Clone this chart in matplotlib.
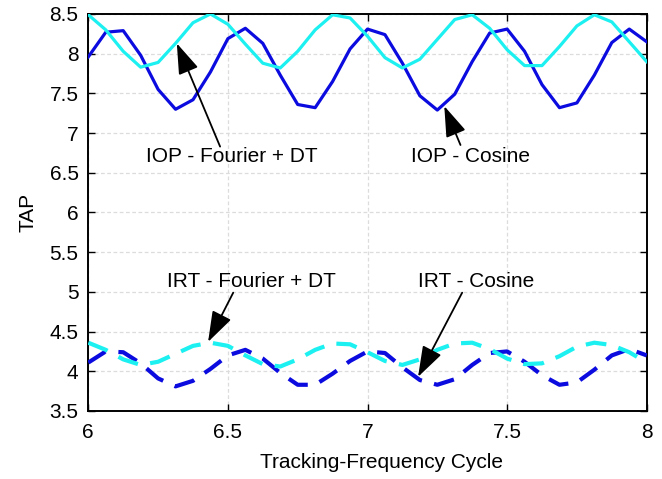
import numpy as np
import matplotlib
matplotlib.use("Agg")
import matplotlib.pyplot as plt

plt.rcParams['font.family'] = ['Liberation Sans', 'DejaVu Sans']

cycle = [6 + k / 16 for k in range(33)]

iop_cosine = [7.96, 8.27, 8.29, 7.98, 7.55, 7.30, 7.42, 7.77, 8.19, 8.32, 8.13,
              7.73, 7.36, 7.32, 7.65, 8.06, 8.31, 8.24, 7.88, 7.47, 7.29, 7.49,
              7.90, 8.26, 8.31, 8.03, 7.61, 7.32, 7.38, 7.73, 8.14, 8.31, 8.15]
iop_fourier = [8.49, 8.30, 8.03, 7.83, 7.89, 8.13, 8.39, 8.50, 8.37, 8.12, 7.88,
               7.82, 8.03, 8.30, 8.49, 8.45, 8.22, 7.95, 7.82, 7.93, 8.18, 8.43,
               8.49, 8.32, 8.05, 7.85, 7.85, 8.09, 8.35, 8.49, 8.40, 8.15, 7.90]
irt_cosine = [4.11, 4.25, 4.24, 4.10, 3.91, 3.81, 3.88, 4.03, 4.20, 4.27, 4.16,
              3.98, 3.83, 3.83, 3.97, 4.13, 4.25, 4.23, 4.05, 3.89, 3.83, 3.90,
              4.08, 4.23, 4.25, 4.12, 3.95, 3.83, 3.86, 4.02, 4.20, 4.28, 4.20]
irt_fourier = [4.36, 4.27, 4.15, 4.08, 4.12, 4.22, 4.32, 4.36, 4.32, 4.20, 4.09,
               4.06, 4.15, 4.27, 4.35, 4.34, 4.24, 4.13, 4.08, 4.15, 4.27, 4.35,
               4.36, 4.28, 4.16, 4.09, 4.10, 4.19, 4.31, 4.36, 4.33, 4.24, 4.11]

x_ticks = [6, 6.5, 7, 7.5, 8]
x_tick_labels = ['6', '6.5', '7', '7.5', '8']
y_ticks = [3.5, 4, 4.5, 5, 5.5, 6, 6.5, 7, 7.5, 8, 8.5]
y_tick_labels = ['3.5', '4', '4.5', '5', '5.5', '6', '6.5', '7', '7.5', '8', '8.5']

labels = ['IOP - Fourier + DT', 'IOP - Cosine', 'IRT - Fourier + DT', 'IRT - Cosine']
label_pos = [(6.515, 6.70), (7.368, 6.70), (6.583, 5.125), (7.389, 5.125)]
arrow_tail = [(6.472, 6.83), (7.333, 6.85), (6.519, 4.99), (7.339, 4.99)]
arrow_tip = [(6.317, 8.13), (7.275, 7.34), (6.429, 4.37), (7.181, 3.93)]

BLUE = '#0B0BE0'
CYAN = '#1CF0F0'
FS = 15

fig = plt.figure(figsize=(6.62, 4.79), dpi=100)
ax = fig.add_axes([0.1334, 0.142, 0.8435, 0.8288])

ax.plot(cycle, iop_cosine, color=BLUE, lw=2.3, zorder=3)
ax.plot(cycle, iop_fourier, color=CYAN, lw=2.3, zorder=3)
ax.plot(cycle, irt_cosine, color=BLUE, lw=3.0, dashes=(5, 3), zorder=3)
ax.plot(cycle, irt_fourier, color=CYAN, lw=3.0, dashes=(5, 3), zorder=3)

for txt, pos, tail, tip in zip(labels, label_pos, arrow_tail, arrow_tip):
    ax.text(pos[0], pos[1], txt, ha='center', va='center', fontsize=FS, zorder=5)
    ax.annotate('', xy=tip, xytext=tail,
                arrowprops=dict(arrowstyle='-|>,head_length=0.5,head_width=0.17',
                                color='k', lw=1.3,
                                mutation_scale=38, shrinkA=0, shrinkB=0),
                zorder=5)

ax.set_xlim(6, 8)
ax.set_ylim(3.5, 8.5)
ax.set_xticks(x_ticks)
ax.set_xticklabels(x_tick_labels)
ax.set_yticks(y_ticks)
ax.set_yticklabels(y_tick_labels)
ax.tick_params(direction='in', length=5, width=1, labelsize=FS,
               top=True, right=True)
ax.tick_params(axis='x', pad=9)
ax.tick_params(axis='y', pad=7)
ax.grid(True, color='#dcdcdc', linestyle=(0, (3, 2)), lw=0.9)
ax.set_axisbelow(True)
for s in ax.spines.values():
    s.set_linewidth(1.4)

ax.set_xlabel('Tracking-Frequency Cycle', fontsize=FS, labelpad=3)
ax.set_ylabel('TAP', fontsize=FS, labelpad=9)
ax.xaxis.set_label_coords(0.525, -0.105)

fig.savefig('out.png', dpi=100)
